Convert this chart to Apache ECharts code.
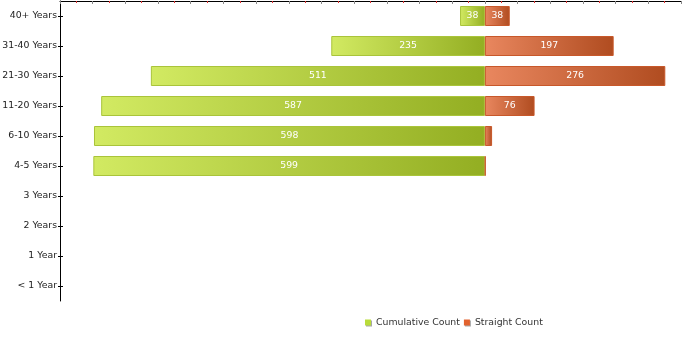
<!DOCTYPE html>
<html><head><meta charset="utf-8">
<script src="https://cdn.jsdelivr.net/npm/echarts@6/dist/echarts.min.js"></script>
<style>html,body{margin:0;padding:0;background:#fff}#c{width:700px;height:350px}</style>
</head><body><div id="c"></div>
<script>
const categories = ['40+ Years','31-40 Years','21-30 Years','11-20 Years','6-10 Years','4-5 Years','3 Years','2 Years','1 Year','< 1 Year'];
const cumulativeCount = [38, 235, 511, 587, 598, 599, 0, 0, 0, 0];
const straightCount = [38, 197, 276, 76, 11, 1, 0, 0, 0, 0];

const font = '"DejaVu Sans", sans-serif';
const fs = 9.33;
const chart = echarts.init(document.getElementById('c'), null, {renderer:'canvas'});
const lg = (a,b)=>new echarts.graphic.LinearGradient(0,0,1,0,[{offset:0,color:a},{offset:1,color:b}]);
const legIcon = c => ({color:c,borderWidth:0,shadowColor:'rgba(0,0,0,0.35)',shadowOffsetX:1,shadowOffsetY:1,shadowBlur:0});
chart.setOption({
  animation:false,
  grid:{left:60,right:19,top:1,height:300,containLabel:false,outerBoundsMode:'none'},
  legend:{
    top:318,left:365,itemWidth:6,itemHeight:6,itemGap:4,icon:'rect',padding:0,
    textStyle:{fontFamily:font,fontSize:fs,color:'#333'},
    data:[{name:'Cumulative Count',itemStyle:legIcon('#b9dc3a')},
          {name:'Straight Count',itemStyle:legIcon('#e2622e')}]
  },
  xAxis:{
    type:'value',position:'top',min:-650,max:300,interval:50,
    axisLabel:{show:false},splitLine:{show:false},
    axisLine:{show:true,onZero:false,lineStyle:{color:'#000',width:1}},
    axisTick:{show:true,inside:true,length:3,lineStyle:{color:'#888'}},
    minorTick:{show:true,splitNumber:2,length:2,lineStyle:{color:'#e03030'}}
  },
  yAxis:[{
    type:'category',data:categories,inverse:true,
    axisLine:{show:true,onZero:false,lineStyle:{color:'#000',width:1}},
    axisTick:{show:true,alignWithLabel:true,length:2,lineStyle:{color:'#000'}},
    axisLabel:{fontFamily:font,fontSize:fs,color:'#222',margin:3},
    splitLine:{show:false}
  },{
    type:'category',data:categories,inverse:true,position:'left',
    axisLine:{show:false,onZero:false},
    axisTick:{show:true,inside:true,alignWithLabel:true,length:3,lineStyle:{color:'#000'}},
    axisLabel:{show:false},splitLine:{show:false}
  }],
  series:[{
    name:'Cumulative Count',type:'bar',stack:'s',barWidth:20,
    data:cumulativeCount.map(v=>v?-v:null),
    itemStyle:{color:lg('#d2ea62','#93ae22'),borderColor:'#a9c43a',borderWidth:1},
    label:{show:true,position:'inside',color:'#fff',fontFamily:font,fontSize:fs,
      formatter:p=>Math.abs(p.value)>=20?String(Math.abs(p.value)):''}
  },{
    name:'Straight Count',type:'bar',stack:'s',barWidth:20,
    data:straightCount.map(v=>v||null),
    itemStyle:{color:lg('#e9875f','#b04c20'),borderColor:'#c8582a',borderWidth:1},
    label:{show:true,position:'inside',color:'#fff',fontFamily:font,fontSize:fs,
      formatter:p=>p.value>=20?String(p.value):''}
  }]
});
</script></body></html>
